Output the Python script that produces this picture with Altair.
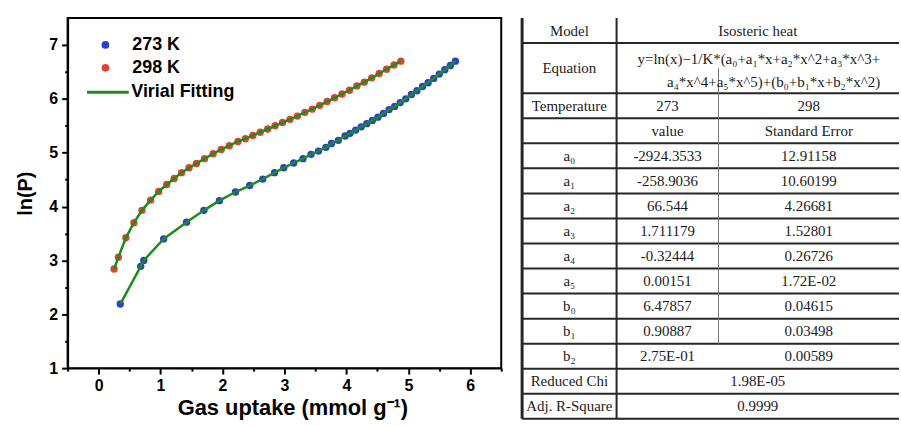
import altair as alt
import pandas as pd

# ---------------- data: isotherm points ----------------
SERIES = ["273 K", "298 K"]
FIT_LABEL = "Virial Fitting"

X_273 = [0.35, 0.68, 0.73, 1.05, 1.42, 1.70, 1.95, 2.21, 2.44, 2.65, 2.84, 2.99,
         3.15, 3.30, 3.43, 3.55, 3.67, 3.76, 3.87, 3.98, 4.06, 4.15, 4.24, 4.33,
         4.42, 4.51, 4.60, 4.69, 4.78, 4.87, 4.96, 5.05, 5.14, 5.23, 5.32, 5.41,
         5.50, 5.59, 5.68, 5.76]
Y_273 = [2.19, 2.89, 3.00, 3.40, 3.71, 3.93, 4.11, 4.27, 4.39, 4.51, 4.63, 4.72,
         4.81, 4.89, 4.97, 5.03, 5.10, 5.17, 5.23, 5.31, 5.36, 5.42, 5.48, 5.54,
         5.60, 5.66, 5.73, 5.80, 5.86, 5.93, 6.00, 6.08, 6.15, 6.23, 6.30, 6.38,
         6.46, 6.54, 6.62, 6.70]

X_298 = [0.25, 0.32, 0.44, 0.57, 0.70, 0.84, 0.97, 1.10, 1.22, 1.34, 1.46, 1.58,
         1.71, 1.85, 1.98, 2.11, 2.25, 2.37, 2.49, 2.61, 2.73, 2.85, 2.97, 3.09,
         3.21, 3.33, 3.45, 3.57, 3.69, 3.81, 3.93, 4.05, 4.17, 4.29, 4.41, 4.53,
         4.65, 4.77, 4.88]
Y_298 = [2.84, 3.06, 3.42, 3.70, 3.93, 4.12, 4.28, 4.41, 4.52, 4.63, 4.72, 4.80,
         4.89, 4.98, 5.06, 5.13, 5.21, 5.26, 5.32, 5.38, 5.44, 5.50, 5.56, 5.62,
         5.68, 5.75, 5.81, 5.88, 5.95, 6.02, 6.09, 6.16, 6.24, 6.31, 6.39, 6.47,
         6.55, 6.63, 6.70]

X_TICKS = [-0.5, 0, 0.5, 1, 1.5, 2, 2.5, 3, 3.5, 4, 4.5, 5, 5.5, 6, 6.5]
Y_TICKS = [1, 1.5, 2, 2.5, 3, 3.5, 4, 4.5, 5, 5.5, 6, 6.5, 7]

# ---------------- data: fit parameter table ----------------
HEAD_LABELS = ["Model", "Equation", "Temperature", ""]
MODEL_NAME = "Isosteric heat"
EQUATION_LINES = ["y=ln(x)\u22121/K*(a\u2080+a\u2081*x+a\u2082*x^2+a\u2083*x^3+",
                  "a\u2084*x^4+a\u2085*x^5)+(b\u2080+b\u2081*x+b\u2082*x^2)"]
TEMPS = ["273", "298"]
COL_HEADS = ["value", "Standard Error"]
PARAMS = ["a\u2080", "a\u2081", "a\u2082", "a\u2083", "a\u2084", "a\u2085",
          "b\u2080", "b\u2081", "b\u2082"]
VALUES = ["-2924.3533", "-258.9036", "66.544", "1.711179", "-0.32444", "0.00151",
          "6.47857", "0.90887", "2.75E-01"]
ERRORS = ["12.91158", "10.60199", "4.26681", "1.52801", "0.26726", "1.72E-02",
          "0.04615", "0.03498", "0.00589"]
STAT_LABELS = ["Reduced Chi", "Adj. R-Square"]
STAT_VALUES = ["1.98E-05", "0.9999"]

# ---------------- styles ----------------
SANS = "Liberation Sans"
SERIF = "Liberation Serif"
BLUE = "#2a3fd2"
RED = "#e4402f"
GREEN = "#1d8c1d"

# ---------------- left panel ----------------
pts = pd.DataFrame({
    "x": X_273 + X_298,
    "y": Y_273 + Y_298,
    "series": [SERIES[0]] * len(X_273) + [SERIES[1]] * len(X_298),
})
pts["fit"] = FIT_LABEL

major_test = "datum.value % 1 === 0"
x_axis = alt.Axis(
    values=X_TICKS,
    labelExpr="datum.value % 1 === 0 ? format(datum.value, 'd') : ''",
    tickSize={"condition": {"test": major_test, "value": 6}, "value": 3},
    tickWidth=2, tickColor="black", domainColor="black", domainWidth=2,
    grid=False, labelFlush=False, labelOverlap=False,
    labelFont=SANS, labelFontWeight="bold", labelFontSize=16, labelColor="black",
    labelPadding=4,
    titleFont=SANS, titleFontWeight="bold", titleFontSize=22, titleColor="black",
    titlePadding=4, titleX=226,
)
y_axis = alt.Axis(
    values=Y_TICKS,
    labelExpr="datum.value % 1 === 0 ? format(datum.value, 'd') : ''",
    tickSize={"condition": {"test": major_test, "value": 6}, "value": 3},
    tickWidth=2, tickColor="black", domainColor="black", domainWidth=2,
    grid=False, labelFlush=False, labelOverlap=False,
    labelFont=SANS, labelFontWeight="bold", labelFontSize=16, labelColor="black",
    labelPadding=4,
    titleFont=SANS, titleFontWeight="bold", titleFontSize=20, titleColor="black",
    titlePadding=13,
)
X_ENC = alt.X("x:Q", scale=alt.Scale(domain=[-0.5, 6.5], nice=False, zero=False),
              axis=x_axis, title="Gas uptake (mmol g\u207b\u00b9)")
Y_ENC = alt.Y("y:Q", scale=alt.Scale(domain=[1, 7.5], nice=False, zero=False),
              axis=y_axis, title="ln(P)")

points = alt.Chart(pts).mark_circle(size=55, opacity=1).encode(
    x=X_ENC, y=Y_ENC,
    fill=alt.Fill("series:N", scale=alt.Scale(domain=SERIES, range=[BLUE, RED]),
                  legend=alt.Legend(orient="none", legendX=29, legendY=18, title=None,
                                    padding=0, rowPadding=5, symbolSize=60,
                                    symbolType="circle", labelOffset=18,
                                    labelFont=SANS, labelFontWeight="bold",
                                    labelFontSize=18, labelColor="black")),
)
fit_line = alt.Chart(pts).mark_line(strokeWidth=2.5).encode(
    x=X_ENC, y=Y_ENC, detail="series:N", order="x:Q",
    stroke=alt.Stroke("fit:N", scale=alt.Scale(domain=[FIT_LABEL], range=[GREEN]),
                      legend=alt.Legend(orient="none", legendX=18, legendY=52, title=None,
                                        padding=0, symbolSize=1764, symbolType="stroke",
                                        symbolStrokeWidth=3, labelOffset=1,
                                        labelFont=SANS, labelFontWeight="bold",
                                        labelFontSize=18, labelColor="black")),
)
plot = alt.layer(points, fit_line).properties(
    width=436, height=352,
    view=alt.ViewBackground(stroke="black", strokeWidth=2),
)

# ---------------- right panel: table ----------------
TW, TH = 379, 403
COL_EDGES = [0, 95, 197.5, TW]
N_UNITS = 16
c1 = (COL_EDGES[0] + COL_EDGES[1]) / 2
c2 = (COL_EDGES[1] + COL_EDGES[2]) / 2
c3 = (COL_EDGES[2] + COL_EDGES[3]) / 2
c23 = (COL_EDGES[1] + COL_EDGES[3]) / 2

cells = []
cells.append((c1, 0.5, HEAD_LABELS[0]))
cells.append((c23, 0.5, MODEL_NAME))
cells.append((c1, 2.0, HEAD_LABELS[1]))
cells.append((c1, 3.5, HEAD_LABELS[2]))
cells.append((c2, 3.5, TEMPS[0]))
cells.append((c3, 3.5, TEMPS[1]))
cells.append((c2, 4.5, COL_HEADS[0]))
cells.append((c3, 4.5, COL_HEADS[1]))
for i, (p, v, e) in enumerate(zip(PARAMS, VALUES, ERRORS)):
    cells.append((c1, 5.5 + i, p))
    cells.append((c2, 5.5 + i, v))
    cells.append((c3, 5.5 + i, e))
for i, (lab, val) in enumerate(zip(STAT_LABELS, STAT_VALUES)):
    cells.append((c1, 14.5 + i, lab))
    cells.append((c23, 14.5 + i, val))
cells_df = pd.DataFrame(cells, columns=["px", "row", "label"])
eq_df = pd.DataFrame({"px": [TW - 19] * 2, "row": [1.62, 2.55], "label": EQUATION_LINES})

tx = alt.Scale(domain=[0, TW], nice=False, zero=False)
ty = alt.Scale(domain=[0, N_UNITS], reverse=True, nice=False, zero=False)

hlines = pd.DataFrame({"y": [1, 3, 4, 5, 6, 7, 8, 9, 10, 11, 12, 13, 14, 15, 16]})
hlines["x"] = 0
hlines["x2"] = TW
border = pd.DataFrame({"x": [0], "y": [0], "y2": [N_UNITS]})
divider = pd.DataFrame({"x": [COL_EDGES[1]], "y": [0], "y2": [N_UNITS]})
inner = pd.DataFrame({"x": [COL_EDGES[2]], "y": [2], "y2": [13]})

def vrule(df, width, color):
    return alt.Chart(df).mark_rule(strokeWidth=width, color=color).encode(
        x=alt.X("x:Q", scale=tx, axis=None),
        y=alt.Y("y:Q", scale=ty, axis=None),
        y2="y2:Q",
    )

h_layer = alt.Chart(hlines).mark_rule(strokeWidth=2, color="#262626").encode(
    x=alt.X("x:Q", scale=tx, axis=None), x2="x2:Q",
    y=alt.Y("y:Q", scale=ty, axis=None),
)
text_layer = alt.Chart(cells_df).mark_text(
    font=SERIF, fontSize=15, color="#1a1a1a", align="center", baseline="middle"
).encode(
    x=alt.X("px:Q", scale=tx, axis=None),
    y=alt.Y("row:Q", scale=ty, axis=None),
    text="label:N",
)
eq_layer = alt.Chart(eq_df).mark_text(
    font=SERIF, fontSize=15, color="#1a1a1a", align="right", baseline="middle"
).encode(
    x=alt.X("px:Q", scale=tx, axis=None),
    y=alt.Y("row:Q", scale=ty, axis=None),
    text="label:N",
)

table = alt.layer(
    h_layer,
    vrule(border, 3, "#262626"),
    vrule(divider, 2, "#262626"),
    vrule(inner, 1, "#777777"),
    text_layer,
    eq_layer,
).properties(
    width=TW, height=TH,
    view=alt.ViewBackground(stroke="transparent"),
)

chart = alt.hconcat(plot, table, spacing=17).properties(
    padding={"left": 15, "top": 15, "right": 0, "bottom": 0},
    background="white",
)

chart.save("out.html", embed_options={"renderer": "svg", "actions": False})
